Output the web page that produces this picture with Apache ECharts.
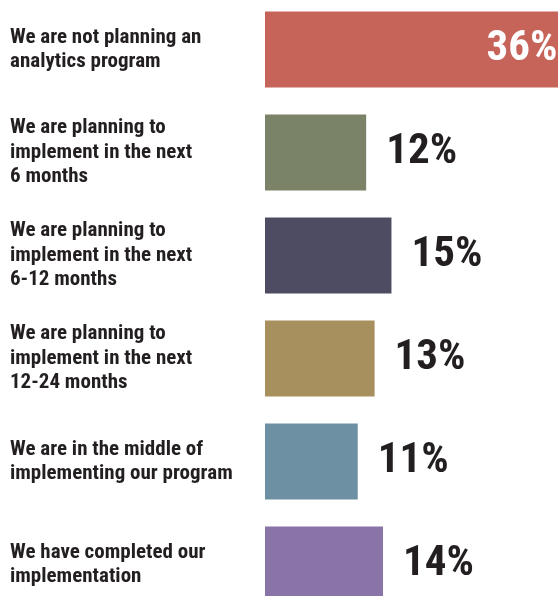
<!DOCTYPE html>
<html>
<head>
<meta charset="utf-8">
<script src="https://cdn.jsdelivr.net/npm/echarts@6/dist/echarts.min.js"></script>
<style>
  html, body { margin: 0; padding: 0; background: #ffffff; }
  #chart { width: 558px; height: 596px; }
</style>
</head>
<body>
<div id="chart"></div>
<script>
// Survey answers, top to bottom
const categories = [
  'We are not planning an\nanalytics program',
  'We are planning to\nimplement in the next\n6 months',
  'We are planning to\nimplement in the next\n6-12 months',
  'We are planning to\nimplement in the next\n12-24 months',
  'We are in the middle of\nimplementing our program',
  'We have completed our\nimplementation'
];
// Share of respondents, percent
const shares = [36, 12, 15, 13, 11, 14];
const barColors = ['#c6645a', '#7a8367', '#4e4c63', '#a88f5e', '#6d91a3', '#8a73a7'];

const ink = '#231f20';
const labelFont = '"Roboto Condensed", "Open Sans Condensed", sans-serif';
const topShare = Math.max(...shares);

const chart = echarts.init(document.getElementById('chart'), null, { renderer: 'canvas' });

chart.setOption({
  animation: false,
  backgroundColor: '#ffffff',
  grid: {
    left: 265, top: -2, width: 303.5, height: 618,
    containLabel: false,
    outerBoundsMode: 'none'
  },
  xAxis: {
    type: 'value',
    min: 0,
    max: 36,
    show: false
  },
  yAxis: {
    type: 'category',
    data: categories,
    inverse: true,
    axisLine: { show: false },
    axisTick: { show: false },
    splitLine: { show: false },
    axisLabel: {
      align: 'left',
      margin: 255,
      color: ink,
      fontFamily: labelFont,
      fontWeight: 'bold',
      fontSize: 21,
      lineHeight: 24.5
    }
  },
  series: [{
    type: 'bar',
    barWidth: 76,
    data: shares.map((v, i) => {
      const item = { value: v, itemStyle: { color: barColors[i] } };
      if (v === topShare) {
        // the widest bar carries its value inside, in white
        item.label = { position: 'insideRight', distance: 11, color: '#ffffff' };
      }
      return item;
    }),
    label: {
      show: true,
      position: 'right',
      distance: 20,
      formatter: '{c}%',
      color: ink,
      fontFamily: labelFont,
      fontWeight: 'bold',
      fontSize: 43
    }
  }]
});
</script>
</body>
</html>
